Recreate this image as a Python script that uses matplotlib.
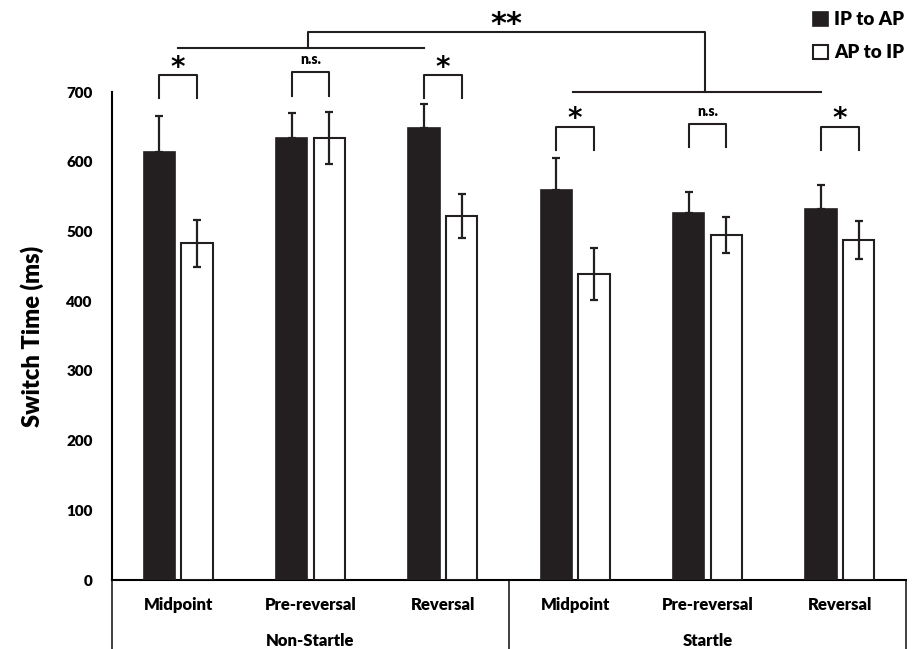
import numpy as np
import matplotlib.pyplot as plt

plt.rcParams['font.family'] = ['Lato', 'DejaVu Sans']
plt.rcParams['font.weight'] = 'heavy'

# data
conditions = ["Midpoint", "Pre-reversal", "Reversal", "Midpoint", "Pre-reversal", "Reversal"]
groups = ["Non-Startle", "Startle"]
ip_to_ap = [614, 634, 648, 560, 527, 532]
ip_to_ap_err = [52, 36, 35, 46, 29, 34]
ap_to_ip = [483, 634, 522, 439, 495, 488]
ap_to_ip_err = [34, 37, 31, 37, 26, 27]
pair_marks = ["*", "n.s.", "*", "*", "n.s.", "*"]
group_mark = "**"

DARK = "#231f20"
W = 0.235
OFF = 0.142

fig = plt.figure(figsize=(9.14, 6.49), dpi=100)
ax = fig.add_axes([112 / 914, 69 / 649, 794 / 914, 488 / 649])

x = np.arange(len(conditions))
ax.bar(x - OFF, ip_to_ap, W, color=DARK, edgecolor=DARK, lw=1.2, zorder=3,
       label="IP to AP")
ax.bar(x + OFF, ap_to_ip, W, color="white", edgecolor=DARK, lw=1.5, zorder=3,
       label="AP to IP")
ax.errorbar(x - OFF, ip_to_ap, yerr=[np.zeros(len(x)), ip_to_ap_err], fmt="none",
            ecolor=DARK, elinewidth=1.6, capsize=3, capthick=1.6, zorder=2)
ax.errorbar(x + OFF, ap_to_ip, yerr=ap_to_ip_err, fmt="none",
            ecolor=DARK, elinewidth=1.6, capsize=3, capthick=1.6, zorder=4)

ax.set_xlim(-0.5, 5.5)
ax.set_ylim(0, 700)
ax.set_yticks(np.arange(0, 701, 100))
ax.tick_params(axis="y", length=0, pad=14, labelsize=11)
ax.set_xticks([])
for s in ["top", "right"]:
    ax.spines[s].set_visible(False)
ax.spines["left"].set_linewidth(1.5)
ax.spines["bottom"].set_linewidth(1.5)
ax.set_ylabel("Switch Time (ms)", fontsize=17, fontweight="heavy", labelpad=16)

# category and group labels below the axis
xt = ax.get_xaxis_transform()
for xi, name in zip(x, conditions):
    ax.text(xi, -0.051, name, transform=xt, ha="center", va="center", fontsize=12)
for gi, name in enumerate(groups):
    ax.text(gi * 3 + 1, -0.125, name, transform=xt, ha="center", va="center", fontsize=12)
for xv in [-0.5, 2.5, 5.5]:
    ax.plot([xv, xv], [0, -0.15], transform=xt, color=DARK, lw=1.2, clip_on=False)

# pairwise brackets
lk = dict(color=DARK, lw=1.5, clip_on=False)
for i, mark in enumerate(pair_marks):
    ns = mark == "n.s."
    if i < 3:
        top, bot = (729, 694) if ns else (724, 691)
    else:
        top, bot = (654, 621) if ns else (650, 617)
    x0, x1 = x[i] - OFF, x[i] + OFF
    ax.plot([x0, x0, x1, x1], [bot, top, top, bot], **lk)
    if ns:
        ax.text(x[i], top + 8, mark, ha="center", va="bottom", fontsize=10)
    else:
        ax.text(x[i], top - 9, mark, ha="center", va="bottom", fontsize=20,
                fontfamily="DejaVu Sans", fontweight="bold")

# group comparison lines
ns_y, st_y, top_y = 763, 700, 786
ax.plot([x[0], x[2] - OFF], [ns_y, ns_y], **lk)
ax.plot([x[3] - 0.02, x[5] - 0.14], [st_y, st_y], **lk)
ax.plot([x[1] - 0.02, x[1] - 0.02, x[4] - 0.02, x[4] - 0.02],
        [ns_y, top_y, top_y, st_y], **lk)
ax.text(x[2] + 0.48, top_y - 10, group_mark, ha="center", va="bottom",
        fontsize=22, fontfamily="DejaVu Sans", fontweight="bold")

ax.legend(loc="upper left", bbox_to_anchor=(802 / 914, 1.0), bbox_transform=fig.transFigure,
          frameon=False, fontsize=13.5, handlelength=0.8, handleheight=0.8,
          handletextpad=0.3, labelspacing=0.85, borderpad=0.4, borderaxespad=0.2)

fig.savefig("out.png", dpi=100)
